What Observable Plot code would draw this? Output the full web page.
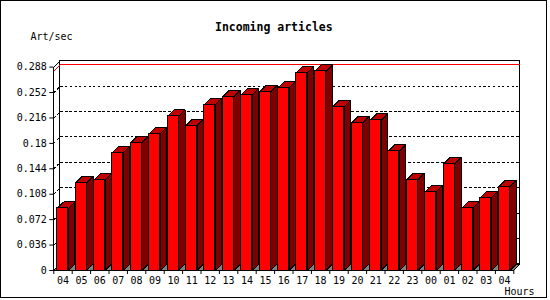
<!DOCTYPE html>
<html>
<head>
<meta charset="utf-8">
<script src="https://cdn.jsdelivr.net/npm/d3@7"></script>
<script src="https://cdn.jsdelivr.net/npm/@observablehq/plot@0.6"></script>
<style>
  html, body { margin: 0; padding: 0; background: #fff; }
  #wrap { position: relative; width: 550px; height: 300px; }
  #border { position: absolute; left: 0; top: 0; width: 547px; height: 298px; box-sizing: border-box; border: 1px solid #000; pointer-events: none; }
</style>
</head>
<body>
<div id="wrap"><div id="border"></div></div>
<script>
const title = "Incoming articles";
const yLabel = "Art/sec";
const xLabel = "Hours";
const hours = ["04","05","06","07","08","09","10","11","12","13","14","15","16","17","18","19","20","21","22","23","00","01","02","03","04"];
const rates = [0.0878,0.1242,0.1284,0.1667,0.1808,0.1936,0.2181,0.2053,0.2346,0.2459,0.2488,0.2530,0.2587,0.2799,0.2818,0.2322,0.2091,0.2124,0.1689,0.1284,0.1114,0.1511,0.0888,0.1029,0.1189];
const yTickValues = [0, 0.036, 0.072, 0.108, 0.144, 0.18, 0.216, 0.252, 0.288];
const yTickLabels = ["0", "0.036", "0.072", "0.108", "0.144", "0.18", "0.216", "0.252", "0.288"];

// style / geometry (in scale units)
const yMax = yTickValues[yTickValues.length - 1];
const n = hours.length;
const barOff = 0.185, barW = 0.6;
const dX = 0.353;           // depth in x units (~6.5px)
const dY = 0.0092;          // depth in y units (~6.5px)
const maxRate = d3.max(rates);
const crisp = "crispEdges";

const tops = [], sides = [];
rates.forEach((v, i) => {
  const a = i + barOff, b = a + barW;
  [[a, v], [b, v], [b + dX, v + dY], [a + dX, v + dY], [a, v]].forEach(([x, y]) => tops.push({id: i, x, y}));
  [[b, 0], [b + dX, dY], [b + dX, v + dY], [b, v], [b, 0]].forEach(([x, y]) => sides.push({id: i, x, y}));
});
const fronts = rates.map((v, i) => ({x1: i + barOff, x2: i + barOff + barW, y: v}));

const floor = [[0, 0], [n, 0], [n + dX, dY], [dX, dY], [0, 0]].map(([x, y]) => ({x, y}));
const grid = [];
yTickValues.slice(1, -1).forEach((t, k) => {
  [[0, t], [dX, t + dY], [n + dX, t + dY]].forEach(([x, y]) => grid.push({id: k, x, y}));
});
const maxLine = [[0, maxRate], [dX, maxRate + dY], [n + dX, maxRate + dY]].map(([x, y]) => ({x, y}));
const frontAxis = [[0, 0], [0, yMax], [dX, yMax + dY]].map(([x, y]) => ({x, y}));

const boundaries = hours.map((h, i) => i).concat(n);
const centers = hours.map((h, i) => i + 0.5);

const chart = Plot.plot({
  width: 550,
  height: 300,
  marginLeft: 53.3,
  marginRight: 36.7,
  marginTop: 66.6,
  marginBottom: 30,
  style: {fontFamily: "'DejaVu Sans Mono', monospace", fontSize: "10px", background: "transparent", color: "#000"},
  x: {type: "linear", domain: [0, n]},
  y: {type: "linear", domain: [0, yMax]},
  marks: [
    // back wall
    Plot.rect([0], {x1: dX, x2: n + dX, y1: dY, y2: yMax + dY, fill: "#fff", stroke: "#000", strokeWidth: 1, shapeRendering: crisp}),
    // grid lines
    Plot.line(grid, {x: "x", y: "y", z: "id", stroke: "#000", strokeWidth: 1, strokeDasharray: "2,2.7", shapeRendering: crisp}),
    // max line
    Plot.line(maxLine, {x: "x", y: "y", stroke: "#ff0000", strokeWidth: 1, shapeRendering: crisp}),
    // floor
    Plot.line(floor, {x: "x", y: "y", fill: "#808080", stroke: "#000", strokeWidth: 1, shapeRendering: crisp}),
    // bars
    Plot.line(sides, {x: "x", y: "y", z: "id", fill: "#800000", stroke: "#000", strokeWidth: 1, shapeRendering: crisp}),
    Plot.line(tops, {x: "x", y: "y", z: "id", fill: "#c00000", stroke: "#000", strokeWidth: 1, shapeRendering: crisp}),
    Plot.rect(fronts, {x1: "x1", x2: "x2", y1: 0, y2: "y", fill: "#ff0000", stroke: "#000", strokeWidth: 1, shapeRendering: crisp}),
    // front axis line
    Plot.line(frontAxis, {x: "x", y: "y", stroke: "#000", strokeWidth: 1, shapeRendering: crisp}),
    // axes
    Plot.axisY(yTickValues, {tickSize: 4, tickPadding: 3, tickFormat: d => yTickLabels[yTickValues.indexOf(d)], label: null}),
    Plot.axisX(boundaries, {tickSize: 4, tickFormat: () => "", label: null}),
    Plot.axisX(centers, {tickSize: 0, tickPadding: 6, tickFormat: d => hours[Math.floor(d)], label: null}),
    // texts
    Plot.text([title], {frameAnchor: "top", dx: -10, dy: -40, fontSize: 11.5, fontWeight: "bold", textAnchor: "middle", lineAnchor: "middle"}),
    Plot.text([yLabel], {frameAnchor: "top-left", dx: -23.3, dy: -30, textAnchor: "start", lineAnchor: "middle"}),
    Plot.text([xLabel], {frameAnchor: "bottom-right", dx: 5.7, dy: 21.6, textAnchor: "middle", lineAnchor: "middle"})
  ]
});
document.getElementById("wrap").prepend(chart);
</script>
</body>
</html>
